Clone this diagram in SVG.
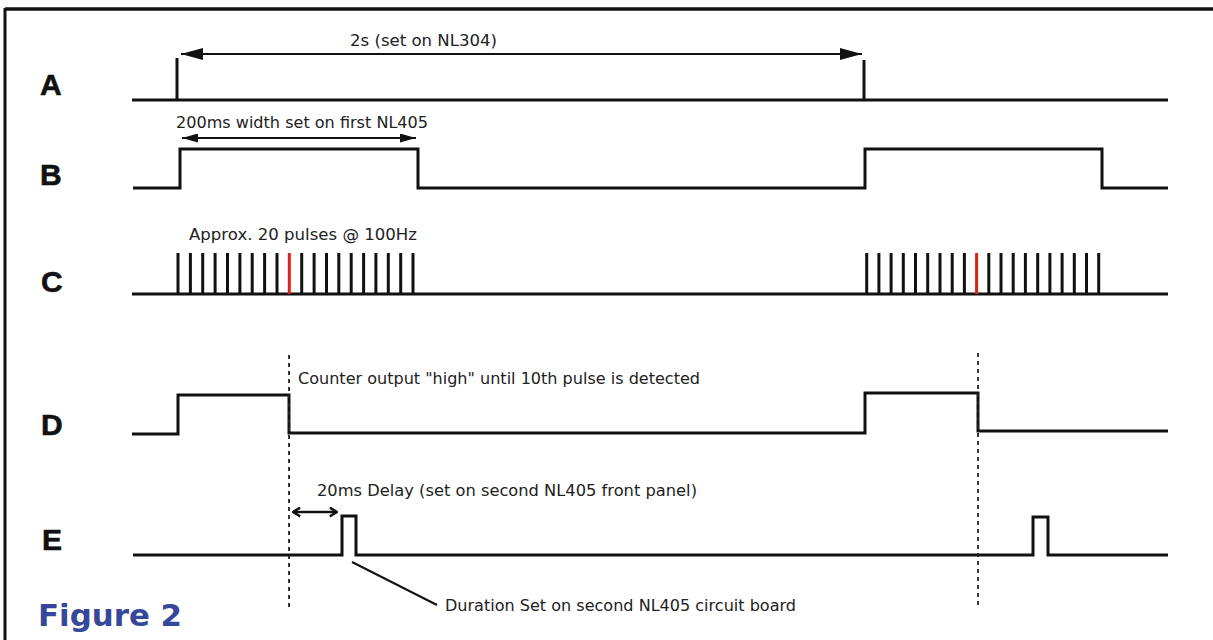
<svg xmlns="http://www.w3.org/2000/svg" width="1213" height="640" viewBox="0 0 1213 640">
<style>
.wave{fill:none;stroke:#111;stroke-width:3;stroke-linejoin:miter;stroke-linecap:butt}
.pulse{stroke:#111;stroke-width:3}
.red{stroke:#e0201c;stroke-width:3}
.dash{stroke:#222;stroke-width:1.8;stroke-dasharray:4 4}
.lbl{font-family:"DejaVu Sans","Verdana",sans-serif;font-size:15.5px;fill:#222}
.sig{font-family:"Liberation Sans",Arial,sans-serif;font-weight:bold;font-size:30px;fill:#111;stroke:#111;stroke-width:0.6}
.fig{font-family:"DejaVu Sans","Verdana",sans-serif;font-weight:bold;font-size:31px;fill:#37479a}
</style>
<defs>
<marker id="triBig" viewBox="0 0 10 10" refX="10" refY="5" markerWidth="22" markerHeight="12" markerUnits="userSpaceOnUse" orient="auto-start-reverse" preserveAspectRatio="none">
<path d="M0,0 L10,5 L0,10 z" fill="#111"/>
</marker>
<marker id="triMid" viewBox="0 0 10 10" refX="10" refY="5" markerWidth="16" markerHeight="9" markerUnits="userSpaceOnUse" orient="auto-start-reverse" preserveAspectRatio="none">
<path d="M0,0 L10,5 L0,10 z" fill="#111"/>
</marker>
<marker id="chev" viewBox="0 0 10 10" refX="9" refY="5" markerWidth="9" markerHeight="11" markerUnits="userSpaceOnUse" orient="auto-start-reverse" preserveAspectRatio="none">
<path d="M1,1 L9,5 L1,9" fill="none" stroke="#111" stroke-width="2.4"/>
</marker>
</defs>
<rect x="0" y="0" width="1213" height="640" fill="#fff"/>
<g id="frame">
<line x1="5" y1="9" x2="1213" y2="9" stroke="#111" stroke-width="3.5"/>
<line x1="5" y1="8" x2="5" y2="640" stroke="#111" stroke-width="3"/>
</g>
<g id="labels">
<text class="sig" x="40" y="95">A</text>
<text class="sig" x="40" y="185">B</text>
<text class="sig" x="41" y="292">C</text>
<text class="sig" x="41" y="435">D</text>
<text class="sig" x="42" y="550">E</text>
</g>
<g id="signalA">
<path class="wave" d="M132,100 H1168"/>
<path class="wave" d="M177,58 V100"/>
<path class="wave" d="M864,60 V100"/>
</g>
<g id="signalB">
<path class="wave" d="M133,188 H180 V149 H418 V188 H865 V149 H1102 V188 H1168"/>
</g>
<g id="signalC">
<path class="wave" d="M132,294 H1168"/>
<g class="pulse">
<line x1="178.0" y1="253" x2="178.0" y2="294"/>
<line x1="190.4" y1="253" x2="190.4" y2="294"/>
<line x1="202.7" y1="253" x2="202.7" y2="294"/>
<line x1="215.1" y1="253" x2="215.1" y2="294"/>
<line x1="227.5" y1="253" x2="227.5" y2="294"/>
<line x1="239.9" y1="253" x2="239.9" y2="294"/>
<line x1="252.2" y1="253" x2="252.2" y2="294"/>
<line x1="264.6" y1="253" x2="264.6" y2="294"/>
<line x1="277.0" y1="253" x2="277.0" y2="294"/>
<line x1="301.7" y1="253" x2="301.7" y2="294"/>
<line x1="314.1" y1="253" x2="314.1" y2="294"/>
<line x1="326.5" y1="253" x2="326.5" y2="294"/>
<line x1="338.8" y1="253" x2="338.8" y2="294"/>
<line x1="351.2" y1="253" x2="351.2" y2="294"/>
<line x1="363.6" y1="253" x2="363.6" y2="294"/>
<line x1="375.9" y1="253" x2="375.9" y2="294"/>
<line x1="388.3" y1="253" x2="388.3" y2="294"/>
<line x1="400.7" y1="253" x2="400.7" y2="294"/>
<line x1="413.0" y1="253" x2="413.0" y2="294"/>
<line x1="866.7" y1="253" x2="866.7" y2="294"/>
<line x1="878.9" y1="253" x2="878.9" y2="294"/>
<line x1="891.1" y1="253" x2="891.1" y2="294"/>
<line x1="903.3" y1="253" x2="903.3" y2="294"/>
<line x1="915.5" y1="253" x2="915.5" y2="294"/>
<line x1="927.7" y1="253" x2="927.7" y2="294"/>
<line x1="940.0" y1="253" x2="940.0" y2="294"/>
<line x1="952.2" y1="253" x2="952.2" y2="294"/>
<line x1="964.4" y1="253" x2="964.4" y2="294"/>
<line x1="988.8" y1="253" x2="988.8" y2="294"/>
<line x1="1001.0" y1="253" x2="1001.0" y2="294"/>
<line x1="1013.2" y1="253" x2="1013.2" y2="294"/>
<line x1="1025.4" y1="253" x2="1025.4" y2="294"/>
<line x1="1037.7" y1="253" x2="1037.7" y2="294"/>
<line x1="1049.9" y1="253" x2="1049.9" y2="294"/>
<line x1="1062.1" y1="253" x2="1062.1" y2="294"/>
<line x1="1074.3" y1="253" x2="1074.3" y2="294"/>
<line x1="1086.5" y1="253" x2="1086.5" y2="294"/>
<line x1="1098.7" y1="253" x2="1098.7" y2="294"/>
</g>
<line class="red" x1="289.3" y1="253" x2="289.3" y2="294"/>
<line class="red" x1="976.6" y1="253" x2="976.6" y2="294"/>
</g>
<g id="signalD">
<path class="wave" d="M132,434 H178 V395 H289 V433 H865 V393 H978 V431 H1168"/>
</g>
<g id="signalE">
<path class="wave" d="M133,555 H342 V516 H356 V555 H1033 V517 H1048 V555 H1168"/>
</g>
<g id="connectors">
<line class="dash" x1="289" y1="355" x2="289" y2="608"/>
<line class="dash" x1="978" y1="353" x2="978" y2="605"/>
<line x1="181" y1="54" x2="862" y2="54" stroke="#111" stroke-width="2" marker-start="url(#triBig)" marker-end="url(#triBig)"/>
<line x1="182" y1="138" x2="416" y2="138" stroke="#111" stroke-width="2" marker-start="url(#triMid)" marker-end="url(#triMid)"/>
<line x1="293" y1="512" x2="337" y2="512" stroke="#111" stroke-width="2.6" marker-start="url(#chev)" marker-end="url(#chev)"/>
<line x1="352" y1="562" x2="437" y2="605" stroke="#111" stroke-width="2"/>
</g>
<g id="annotations">
<text class="lbl" x="350" y="46" textLength="147" lengthAdjust="spacingAndGlyphs">2s (set on NL304)</text>
<text class="lbl" x="176" y="128" textLength="252" lengthAdjust="spacingAndGlyphs">200ms width set on first NL405</text>
<text class="lbl" x="189" y="240" textLength="228" lengthAdjust="spacingAndGlyphs">Approx. 20 pulses @ 100Hz</text>
<text class="lbl" x="298" y="384" textLength="402" lengthAdjust="spacingAndGlyphs">Counter output "high" until 10th pulse is detected</text>
<text class="lbl" x="317" y="496" textLength="380" lengthAdjust="spacingAndGlyphs">20ms Delay (set on second NL405 front panel)</text>
<text class="lbl" x="445" y="611" textLength="351" lengthAdjust="spacingAndGlyphs">Duration Set on second NL405 circuit board</text>
</g>
<g id="title">
<text class="fig" x="38" y="626" textLength="144" lengthAdjust="spacingAndGlyphs">Figure 2</text>
</g>
</svg>
